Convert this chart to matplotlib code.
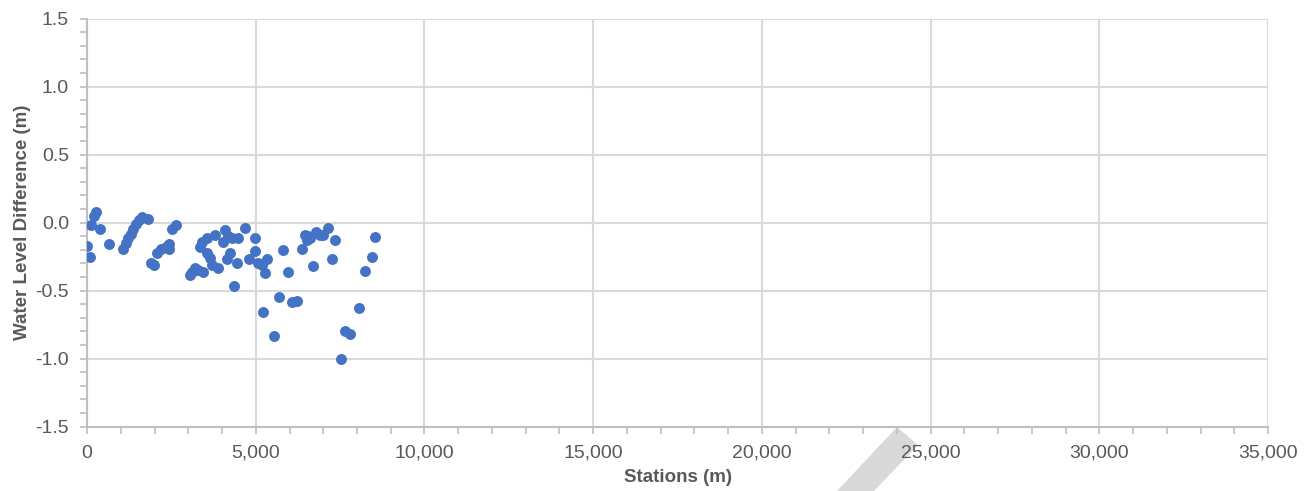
import matplotlib.pyplot as plt
from matplotlib.patches import Polygon
from matplotlib.ticker import FuncFormatter, MultipleLocator

plt.rcParams["font.family"] = ["Liberation Sans", "DejaVu Sans"]

# station (m) and water level difference (m)
stations = [
    0, 100, 130, 200, 270, 370, 660, 1070, 1160, 1220, 1300, 1360, 1450,
    1540, 1620, 1800, 1900, 1990, 2070, 2190, 2340, 2430, 2430, 2520, 2640,
    3050, 3110, 3200, 3300, 3450, 3350, 3400, 3550, 3550, 3650, 3700, 3790,
    3890, 4040, 4090, 4140, 4190, 4240, 4290, 4360, 4440, 4480, 4680, 4810,
    4980, 4980, 5080, 5180, 5200, 5280, 5330, 5550, 5690, 5810, 5970, 6060,
    6210, 6360, 6460, 6510, 6560, 6610, 6710, 6800, 6900, 7000, 7150, 7250,
    7350, 7530, 7650, 7800, 8070, 8240, 8440, 8540,
]
level_diff = [
    -0.17, -0.25, -0.02, 0.05, 0.08, -0.05, -0.16, -0.19, -0.15, -0.11,
    -0.08, -0.05, -0.01, 0.02, 0.04, 0.03, -0.30, -0.31, -0.22, -0.19,
    -0.18, -0.16, -0.19, -0.05, -0.02, -0.385, -0.36, -0.335, -0.35, -0.36,
    -0.18, -0.14, -0.115, -0.225, -0.26, -0.31, -0.09, -0.335, -0.14, -0.054,
    -0.27, -0.10, -0.225, -0.115, -0.465, -0.30, -0.115, -0.04, -0.27, -0.115,
    -0.21, -0.30, -0.31, -0.66, -0.37, -0.27, -0.83, -0.55, -0.20, -0.36,
    -0.58, -0.575, -0.19, -0.09, -0.13, -0.10, -0.115, -0.32, -0.066, -0.09,
    -0.09, -0.04, -0.27, -0.13, -1.0, -0.80, -0.82, -0.63, -0.355, -0.25,
    -0.107,
]

GRID = "#d9d9d9"
TEXT = "#595959"

fig = plt.figure(figsize=(13.09, 4.91), dpi=100)
ax = fig.add_axes([0.0665, 0.131, 0.9022, 0.831])

ax.scatter(stations, level_diff, s=62, color="#4472c4", zorder=3, linewidths=0)

ax.set_xlim(0, 35000)
ax.set_ylim(-1.5, 1.5)
ax.xaxis.set_major_locator(MultipleLocator(5000))
ax.xaxis.set_minor_locator(MultipleLocator(1000))
ax.yaxis.set_major_locator(MultipleLocator(0.5))
ax.yaxis.set_minor_locator(MultipleLocator(0.1))
ax.xaxis.set_major_formatter(FuncFormatter(lambda v, _: f"{int(v):,}"))
ax.yaxis.set_major_formatter(FuncFormatter(lambda v, _: f"{v:.1f}"))

ax.grid(True, which="major", color=GRID, linewidth=1.5, zorder=0)
ax.set_axisbelow(True)
for side in ("top", "right"):
    ax.spines[side].set_visible(False)
for side in ("left", "bottom"):
    ax.spines[side].set_color("#bfbfbf")
    ax.spines[side].set_linewidth(1.5)

ax.tick_params(which="both", color="#bfbfbf", width=1.2, direction="out")
ax.tick_params(which="major", length=5, labelsize=14, labelcolor=TEXT, pad=8)
ax.tick_params(which="minor", length=5)

ax.set_xlabel("Stations (m)", fontsize=13.5, fontweight="bold", color=TEXT, labelpad=5)
ax.set_ylabel("Water Level Difference (m)", fontsize=13.5, fontweight="bold",
              color=TEXT, labelpad=3)

# light grey arrow shaft cutting across the bottom edge, behind the labels
w, h = fig.bbox.width, fig.bbox.height
shaft = [(897, 428), (917, 445), (873, 491), (838, 491)]
fig.patches.append(Polygon([(x / w, 1 - y / h) for x, y in shaft], closed=True,
                           transform=fig.transFigure, color="#d9d9d9", zorder=-1))

fig.savefig("out.png", dpi=100)
